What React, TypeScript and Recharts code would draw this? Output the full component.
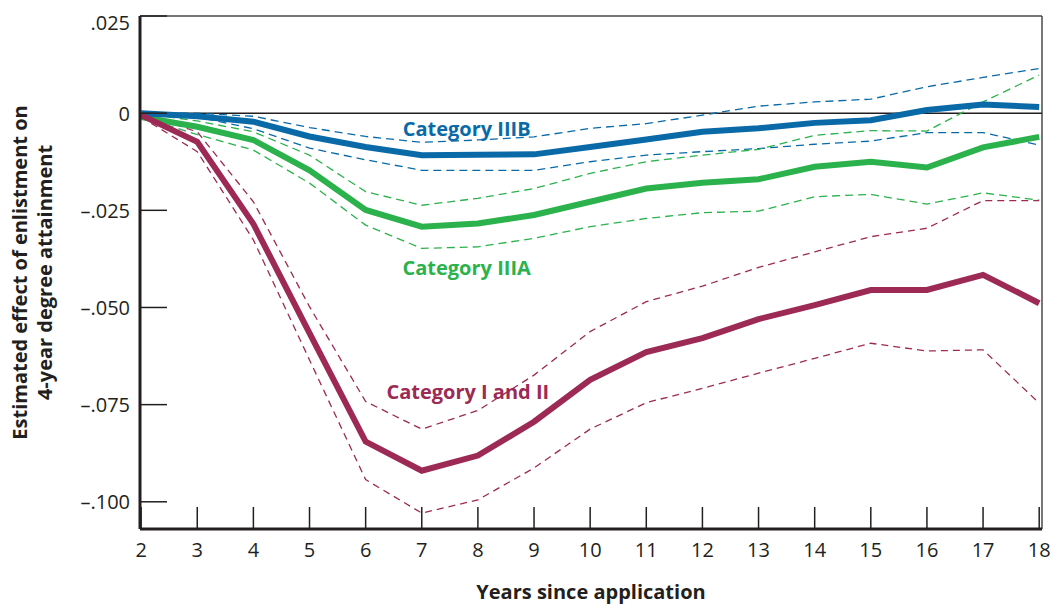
import React from "react";
import {
  LineChart,
  Line,
  XAxis,
  YAxis,
  ReferenceLine,
  ReferenceDot,
} from "recharts";

const years = [2, 3, 4, 5, 6, 7, 8, 9, 10, 11, 12, 13, 14, 15, 16, 17, 18];

// Category IIIB (blue)
const iiibEst = [0, -0.0008, -0.0022, -0.006, -0.0087, -0.0108, -0.0107, -0.0106, -0.0087, -0.0068, -0.0048, -0.0039, -0.0025, -0.0018, 0.0008, 0.0022, 0.0016];
const iiibHi = [0, 0, -0.0008, -0.0037, -0.006, -0.0075, -0.0069, -0.0061, -0.0039, -0.0027, -0.0005, 0.0018, 0.0029, 0.0036, 0.0068, 0.0092, 0.0115];
const iiibLo = [0, -0.001, -0.004, -0.009, -0.012, -0.0147, -0.0147, -0.0147, -0.0125, -0.0108, -0.0099, -0.0091, -0.008, -0.0072, -0.005, -0.005, -0.0082];

// Category IIIA (green)
const iiiaEst = [-0.001, -0.0035, -0.0069, -0.0147, -0.0249, -0.0292, -0.0284, -0.0262, -0.0228, -0.0194, -0.0179, -0.017, -0.0138, -0.0125, -0.014, -0.0088, -0.0061];
const iiiaHi = [0, -0.002, -0.0048, -0.0108, -0.0202, -0.0237, -0.0219, -0.0194, -0.0155, -0.0125, -0.0108, -0.0093, -0.0057, -0.0045, -0.0046, 0.0029, 0.0098];
const iiiaLo = [-0.001, -0.0055, -0.0095, -0.018, -0.0288, -0.0348, -0.0344, -0.0322, -0.0292, -0.0271, -0.0256, -0.0252, -0.0215, -0.0209, -0.0234, -0.0205, -0.0224];

// Category I and II (maroon)
const i2Est = [-0.0005, -0.0074, -0.0285, -0.0566, -0.0845, -0.092, -0.0881, -0.0794, -0.0686, -0.0615, -0.0579, -0.053, -0.0494, -0.0455, -0.0455, -0.0416, -0.0489];
const i2Hi = [0, -0.0048, -0.0228, -0.0498, -0.0742, -0.0813, -0.0765, -0.0674, -0.0562, -0.0485, -0.0445, -0.0397, -0.0357, -0.0318, -0.0296, -0.0225, -0.0225];
const i2Lo = [-0.001, -0.0099, -0.0326, -0.0635, -0.0943, -0.1029, -0.0995, -0.0913, -0.0813, -0.0745, -0.0708, -0.0669, -0.0631, -0.0592, -0.0612, -0.0609, -0.0746];

const yTicks = [0.025, 0, -0.025, -0.05, -0.075, -0.1];
const yTickLabels = [".025", "0", "\u2013.025", "\u2013.050", "\u2013.075", "\u2013.100"];

const seriesLabels = [
  { text: "Category IIIB", year: 7.8, value: -0.0039, color: "#0a6aa8" },
  { text: "Category IIIA", year: 7.8, value: -0.0396, color: "#2bb24c" },
  { text: "Category I and II", year: 7.82, value: -0.0717, color: "#9c2a55" },
];

const data = years.map((yr, i) => ({
  year: yr,
  iiibEst: iiibEst[i],
  iiibHi: iiibHi[i],
  iiibLo: iiibLo[i],
  iiiaEst: iiiaEst[i],
  iiiaHi: iiiaHi[i],
  iiiaLo: iiiaLo[i],
  i2Est: i2Est[i],
  i2Hi: i2Hi[i],
  i2Lo: i2Lo[i],
}));

const FONT = "'Open Sans', sans-serif";
const INK = "#231f20";
const BLUE = "#0a6aa8";
const GREEN = "#2bb24c";
const RED = "#9c2a55";

function YTick(props: any) {
  const { x, y, payload } = props;
  const idx = yTicks.indexOf(payload.value);
  const label = idx >= 0 ? yTickLabels[idx] : String(payload.value);
  const shift = payload.value === 0.025 ? 6 : 0;
  return (
    <text
      x={x}
      y={y + shift}
      textAnchor="end"
      dominantBaseline="central"
      fontFamily={FONT}
      fontSize={20}
      fill={INK}
    >
      {label}
    </text>
  );
}

function XTick(props: any) {
  const { x, y, payload } = props;
  return (
    <text
      x={x}
      y={y}
      dy="0.71em"
      textAnchor="middle"
      fontFamily={FONT}
      fontSize={20}
      fill={INK}
    >
      {payload.value}
    </text>
  );
}

function YTitle(props: any) {
  const vb = props.viewBox || {};
  const cy = vb.y + vb.height / 2;
  return (
    <g transform={`translate(0, ${cy}) rotate(-90)`}>
      <text
        x={0}
        y={19}
        textAnchor="middle"
        dominantBaseline="central"
        fontFamily={FONT}
        fontSize={20}
        fontWeight={700}
        fill={INK}
      >
        Estimated effect of enlistment on
      </text>
      <text
        x={0}
        y={44}
        textAnchor="middle"
        dominantBaseline="central"
        fontFamily={FONT}
        fontSize={20}
        fontWeight={700}
        fill={INK}
      >
        4-year degree attainment
      </text>
    </g>
  );
}

function XTitle(props: any) {
  const vb = props.viewBox || {};
  return (
    <text
      x={vb.x + vb.width / 2}
      y={vb.y + 62}
      textAnchor="middle"
      dominantBaseline="central"
      fontFamily={FONT}
      fontSize={20}
      fontWeight={700}
      fill={INK}
    >
      Years since application
    </text>
  );
}

export default function App() {
  return (
    <>
      <style>{"body{margin:0;overflow:hidden;}"}</style>
      <LineChart
        width={1056}
        height={604}
        data={data}
        margin={{ top: 16, right: 14, bottom: 0, left: 0 }}
      >
        <XAxis
          dataKey="year"
          type="number"
          domain={[1.98, 18.05]}
          ticks={years}
          interval={0}
          height={75}
          axisLine={{ stroke: INK, strokeWidth: 3 }}
          tickLine={{ stroke: INK, strokeWidth: 1.5 }}
          tickSize={-22}
          tickMargin={36}
          tick={<XTick />}
          label={<XTitle />}
        />
        <YAxis
          type="number"
          domain={[-0.107, 0.025]}
          ticks={yTicks}
          interval={0}
          width={140}
          axisLine={{ stroke: INK, strokeWidth: 3 }}
          tickLine={{ stroke: INK, strokeWidth: 1.5 }}
          tickSize={-27}
          tickMargin={37}
          tick={<YTick />}
          label={<YTitle />}
        />
        <ReferenceLine y={0.025} stroke="#4a4a4a" strokeWidth={1.5} />
        <ReferenceLine x={18.05} stroke="#4a4a4a" strokeWidth={1.5} />
        <ReferenceLine y={0} stroke={INK} strokeWidth={1.5} />

        <Line dataKey="iiibHi" stroke={BLUE} strokeWidth={1.3} strokeDasharray="8 5" dot={false} isAnimationActive={false} />
        <Line dataKey="iiibLo" stroke={BLUE} strokeWidth={1.3} strokeDasharray="8 5" dot={false} isAnimationActive={false} />
        <Line dataKey="iiiaHi" stroke={GREEN} strokeWidth={1.3} strokeDasharray="8 5" dot={false} isAnimationActive={false} />
        <Line dataKey="iiiaLo" stroke={GREEN} strokeWidth={1.3} strokeDasharray="8 5" dot={false} isAnimationActive={false} />
        <Line dataKey="i2Hi" stroke={RED} strokeWidth={1.3} strokeDasharray="7 5" dot={false} isAnimationActive={false} />
        <Line dataKey="i2Lo" stroke={RED} strokeWidth={1.3} strokeDasharray="7 5" dot={false} isAnimationActive={false} />

        <Line dataKey="iiiaEst" stroke={GREEN} strokeWidth={6} dot={false} isAnimationActive={false} />
        <Line dataKey="iiibEst" stroke={BLUE} strokeWidth={6} dot={false} isAnimationActive={false} />
        <Line dataKey="i2Est" stroke={RED} strokeWidth={6} dot={false} isAnimationActive={false} />

        {seriesLabels.map((s) => (
          <ReferenceDot
            key={s.text}
            x={s.year}
            y={s.value}
            r={0}
            shape={(p: any) => (
              <text
                x={p.cx}
                y={p.cy}
                textAnchor="middle"
                dominantBaseline="central"
                fontFamily={FONT}
                fontSize={20}
                fontWeight={700}
                fill={s.color}
              >
                {s.text}
              </text>
            )}
          />
        ))}
      </LineChart>
    </>
  );
}
